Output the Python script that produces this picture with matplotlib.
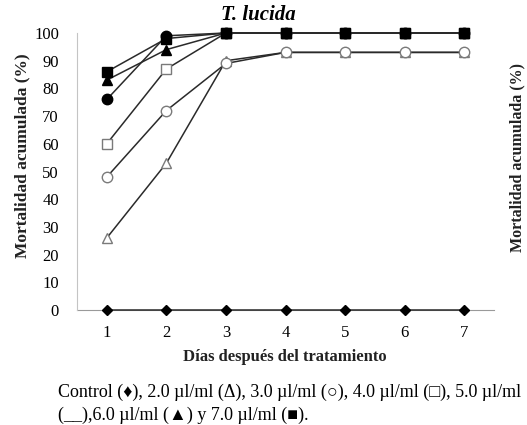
import matplotlib
matplotlib.use("Agg")
import matplotlib.pyplot as plt

days = [1, 2, 3, 4, 5, 6, 7]
control = [0, 0, 0, 0, 0, 0, 0]
d20 = [26, 53, 90, 93, 93, 93, 93]
d30 = [48, 72, 89, 93, 93, 93, 93]
d40 = [60, 87, 100, 100, 100, 100, 100]
d50 = [76, 99, 100, 100, 100, 100, 100]
d60 = [83, 94, 100, 100, 100, 100, 100]
d70 = [86, 98, 100, 100, 100, 100, 100]
yticks = list(range(0, 101, 10))

serif = ['Liberation Serif', 'DejaVu Serif']
plt.rcParams['font.family'] = serif

W, H = 527, 425
fig = plt.figure(figsize=(W / 100, H / 100), dpi=100)
ax = fig.add_axes([77 / W, 1 - 310 / H, (494 - 77) / W, (310 - 33) / H])

lc = '#2a2a2a'
gc = '#7a7a7a'
ms = 7.5
kw = dict(color=lc, lw=1.1, clip_on=False)
ax.plot(days, control, marker='D', ms=5.5, mfc='black', mec='black', zorder=5, **kw)
ax.plot(days, d20, marker='^', ms=ms, mfc='white', mec=gc, zorder=3, **kw)
ax.plot(days, d30, marker='o', ms=ms, mfc='white', mec=gc, zorder=3, **kw)
ax.plot(days, d40, marker='s', ms=ms, mfc='white', mec=gc, zorder=3, **kw)
ax.plot(days, d50, marker='o', ms=ms, mfc='black', mec='black', zorder=4, **kw)
ax.plot(days, d60, marker='^', ms=ms, mfc='black', mec='black', zorder=4, **kw)
ax.plot(days, d70, marker='s', ms=ms, mfc='black', mec='black', zorder=4, **kw)

ax.set_xlim(0.5, 7.5)
ax.set_ylim(0, 100)
ax.set_xticks(days)
ax.set_yticks(yticks)
ax.tick_params(axis='x', length=0, labelsize=12, pad=11)
ax.tick_params(axis='y', length=0, labelsize=12, pad=13)
for s in ['top', 'right']:
    ax.spines[s].set_visible(False)
ax.spines['left'].set_color('#c4c4c4')
ax.spines['bottom'].set_color('#9a9a9a')
ax.spines['bottom'].set_zorder(1)
ax.patch.set_visible(False)

fig.text(258 / W, 1 - 15 / H, 'T. lucida', fontsize=15, fontweight='bold', style='italic',
         ha='center', va='center')
fig.text(22 / W, 1 - 156 / H, 'Mortalidad acumulada (%)', rotation=90, fontsize=12.5,
         fontweight='bold', ha='center', va='center', color='#222222')
fig.text(285 / W, 1 - 357 / H, 'Días después del tratamiento', fontsize=12,
         fontweight='bold', ha='center', va='center', color='#222222')

fig.text(517 / W, 1 - 158 / H, 'Mortalidad acumulada (%)', rotation=90, fontsize=11.5,
         fontweight='bold', ha='center', va='center', color='#222222')

fig.text(58 / W, 1 - 392 / H, 'Control (♦), 2.0 µl/ml (Δ), 3.0 µl/ml (○), 4.0 µl/ml (□), 5.0 µl/ml',
         fontsize=13, ha='left', va='center', family=serif)
fig.text(58 / W, 1 - 415 / H, '(__),6.0 µl/ml (▲) y 7.0 µl/ml (■).',
         fontsize=13, ha='left', va='center', family=serif)

fig.savefig('out.png', dpi=100, facecolor='white')
